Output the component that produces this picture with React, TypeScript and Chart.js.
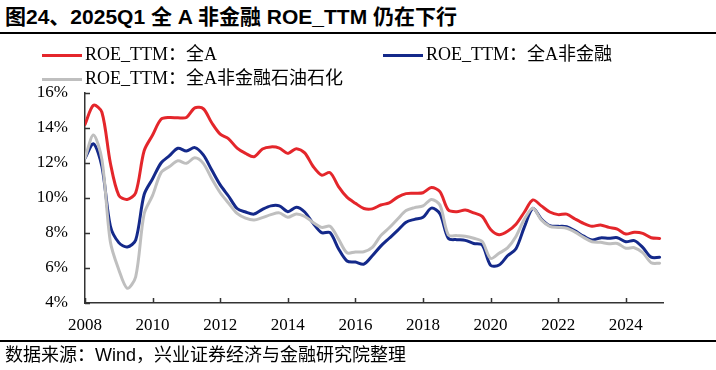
import React, { useEffect, useRef } from "react";
import { Chart, registerables } from "chart.js";

Chart.register(...registerables);

const quarters: string[] = [
  "2008Q1","2008Q2","2008Q3","2008Q4","2009Q1","2009Q2","2009Q3","2009Q4",
  "2010Q1","2010Q2","2010Q3","2010Q4","2011Q1","2011Q2","2011Q3","2011Q4",
  "2012Q1","2012Q2","2012Q3","2012Q4","2013Q1","2013Q2","2013Q3","2013Q4",
  "2014Q1","2014Q2","2014Q3","2014Q4","2015Q1","2015Q2","2015Q3","2015Q4",
  "2016Q1","2016Q2","2016Q3","2016Q4","2017Q1","2017Q2","2017Q3","2017Q4",
  "2018Q1","2018Q2","2018Q3","2018Q4","2019Q1","2019Q2","2019Q3","2019Q4",
  "2020Q1","2020Q2","2020Q3","2020Q4","2021Q1","2021Q2","2021Q3","2021Q4",
  "2022Q1","2022Q2","2022Q3","2022Q4","2023Q1","2023Q2","2023Q3","2023Q4",
  "2024Q1","2024Q2","2024Q3","2024Q4","2025Q1",
];

const roeAll: number[] = [
  14.2, 15.3, 14.9, 12.0, 10.15, 9.92, 10.3, 12.7,
  13.6, 14.5, 14.6, 14.58, 14.6, 15.15, 15.1, 14.3,
  13.65, 13.38, 12.85, 12.55, 12.36, 12.8, 12.92, 12.85,
  12.55, 12.82, 12.58, 11.8, 11.31, 11.45, 10.65, 10.05,
  9.7, 9.4, 9.38, 9.6, 9.72, 10.05, 10.25, 10.27,
  10.3, 10.6, 10.36, 9.31, 9.22, 9.31, 9.15, 8.95,
  8.2, 7.9, 8.1, 8.5, 9.2, 9.89, 9.55, 9.2,
  9.05, 9.08, 8.8, 8.55, 8.38, 8.46, 8.32, 8.22,
  7.94, 8.04, 7.98, 7.73, 7.69,
];

const roeNonFin: number[] = [
  12.27, 13.1, 11.8, 8.4, 7.45, 7.2, 7.6, 10.2,
  11.1, 12.0, 12.42, 12.84, 12.69, 12.88, 12.46, 11.6,
  10.75, 10.1, 9.4, 9.2, 9.08, 9.35, 9.55, 9.55,
  9.22, 9.47, 9.2, 8.55, 8.02, 8.02, 7.1, 6.4,
  6.34, 6.22, 6.7, 7.25, 7.7, 8.15, 8.62, 8.78,
  8.9, 9.42, 9.1, 7.69, 7.62, 7.58, 7.4, 7.32,
  6.15, 6.17, 6.7, 7.1, 8.35, 9.41, 8.8, 8.42,
  8.38, 8.36, 8.12, 7.82, 7.6, 7.72, 7.7, 7.73,
  7.5, 7.56, 7.18, 6.62, 6.61,
];

const roeNonFinExOil: number[] = [
  12.27, 13.6, 12.2, 7.5, 5.9, 4.84, 5.5, 9.1,
  10.15, 11.45, 11.8, 12.13, 11.98, 12.3, 11.98, 11.1,
  10.3, 9.7, 9.12, 8.85, 8.74, 8.88, 9.05, 9.15,
  8.9, 9.09, 8.95, 8.6, 8.32, 8.38, 7.65, 6.87,
  6.92, 6.93, 7.18, 7.85, 8.3, 8.8, 9.28, 9.45,
  9.55, 9.92, 9.6, 7.89, 7.85, 7.82, 7.7, 7.52,
  6.55, 6.84, 7.15, 7.8, 8.8, 9.41, 8.75, 8.38,
  8.32, 8.27, 8.05, 7.75, 7.5, 7.47, 7.38, 7.4,
  7.13, 7.16, 6.88, 6.3, 6.27,
];

const xTickYears: number[] = [2008, 2010, 2012, 2014, 2016, 2018, 2020, 2022, 2024];
const yTickValues: number[] = [4, 6, 8, 10, 12, 14, 16];

const seriesNames: string[] = [
  "ROE_TTM：全A",
  "ROE_TTM：全A非金融",
  "ROE_TTM：全A非金融石油石化",
];
const seriesColors: string[] = ["#E4262B", "#14298A", "#BFBFBF"];

const toYear = (q: string) => Number(q.slice(0, 4)) + (Number(q.slice(5)) - 1) * 0.25;

const serif = '"Liberation Serif", "Times New Roman", "Noto Sans CJK SC", serif';
const sans = '"Liberation Sans", Arial, "Noto Sans CJK SC", sans-serif';

const insideTicks = {
  id: "insideTicks",
  afterDraw(chart: any) {
    const ctx = chart.ctx;
    const xs = chart.scales.x;
    const ys = chart.scales.y;
    ctx.save();
    ctx.strokeStyle = "#333333";
    ctx.lineWidth = 1.5;
    ctx.beginPath();
    xTickYears.forEach((v) => {
      const px = Math.round(xs.getPixelForValue(v)) + 0.5;
      ctx.moveTo(px, ys.bottom);
      ctx.lineTo(px, ys.bottom - 5);
    });
    yTickValues.forEach((v) => {
      const py = Math.round(ys.getPixelForValue(v)) + 0.5;
      ctx.moveTo(xs.left, py);
      ctx.lineTo(xs.left + 5, py);
    });
    ctx.stroke();
    ctx.restore();
  },
};

function ChartCanvas() {
  const ref = useRef<HTMLCanvasElement | null>(null);
  useEffect(() => {
    if (!ref.current) return;
    const xs = quarters.map(toYear);
    const mk = (vals: number[]) => vals.map((v, i) => ({ x: xs[i], y: v }));
    const chart = new Chart(ref.current, {
      type: "line",
      data: {
        datasets: [
          { label: seriesNames[0], data: mk(roeAll), borderColor: seriesColors[0], order: 3 },
          { label: seriesNames[1], data: mk(roeNonFin), borderColor: seriesColors[1], order: 2 },
          { label: seriesNames[2], data: mk(roeNonFinExOil), borderColor: seriesColors[2], order: 1 },
        ].map((d) => ({
          ...d,
          borderWidth: 3,
          pointRadius: 0,
          tension: 0.3,
          fill: false,
          borderCapStyle: "round" as const,
          borderJoinStyle: "round" as const,
        })),
      },
      options: {
        responsive: false,
        animation: false,
        devicePixelRatio: 1,
        layout: { padding: { top: 93, left: 0, right: 53, bottom: 37 } },
        plugins: { legend: { display: false }, tooltip: { enabled: false }, title: { display: false } },
        scales: {
          x: {
            type: "linear",
            min: 2008,
            max: 2025.1,
            afterBuildTicks: (scale: any) => {
              scale.ticks = xTickYears.map((v) => ({ value: v }));
            },
            afterFit: (scale: any) => {
              scale.height = 30;
            },
            grid: { display: false, drawTicks: false },
            border: { display: true, color: "#333333", width: 1.5 },
            ticks: {
              padding: 12,
              color: "#000000",
              font: { family: serif, size: 17 },
              maxRotation: 0,
              autoSkip: false,
              callback: (v: any) => String(v),
            },
          },
          y: {
            type: "linear",
            min: 4,
            max: 16,
            afterBuildTicks: (scale: any) => {
              scale.ticks = yTickValues.map((v) => ({ value: v }));
            },
            afterFit: (scale: any) => {
              scale.width = 85;
            },
            grid: { display: false, drawTicks: false },
            border: { display: true, color: "#333333", width: 1.5 },
            ticks: {
              padding: 17,
              color: "#000000",
              font: { family: serif, size: 17 },
              callback: (v: any) => `${v}%`,
            },
          },
        },
      },
      plugins: [insideTicks],
    });
    return () => chart.destroy();
  }, []);
  return (
    <canvas
      ref={ref}
      width={716}
      height={370}
      style={{ position: "absolute", left: 0, top: 0, width: 716, height: 370 }}
    />
  );
}

function LegendItem({ left, top, color, text }: { left: number; top: number; color: string; text: string }) {
  return (
    <>
      <div style={{ position: "absolute", left, top: top - 1.5, width: 40, height: 3, background: color }} />
      <div
        style={{
          position: "absolute",
          left: left + 43,
          top: top - 11,
          fontFamily: serif,
          fontSize: 18,
          lineHeight: "20px",
          color: "#000",
          whiteSpace: "nowrap",
        }}
      >
        {text}
      </div>
    </>
  );
}

export default function App() {
  return (
    <div style={{ position: "absolute", left: 0, top: 0, width: 716, height: 370, background: "#fff", overflow: "hidden" }}>
      <div
        style={{
          position: "absolute",
          left: 5,
          top: 5,
          fontFamily: sans,
          fontWeight: "bold",
          fontSize: 21,
          lineHeight: "24px",
          color: "#000",
          whiteSpace: "nowrap",
        }}
      >
        图24、2025Q1 全 A 非金融 ROE_TTM 仍在下行
      </div>
      <div style={{ position: "absolute", left: 0, top: 32, width: 716, height: 2, background: "#000" }} />
      <ChartCanvas />
      <LegendItem left={42} top={55} color={seriesColors[0]} text={seriesNames[0]} />
      <LegendItem left={383} top={55} color={seriesColors[1]} text={seriesNames[1]} />
      <LegendItem left={42} top={79} color={seriesColors[2]} text={seriesNames[2]} />
      <div style={{ position: "absolute", left: 0, top: 340, width: 716, height: 2, background: "#000" }} />
      <div
        style={{
          position: "absolute",
          left: 5,
          top: 345,
          fontFamily: sans,
          fontSize: 18,
          lineHeight: "20px",
          color: "#000",
          whiteSpace: "nowrap",
        }}
      >
        数据来源：Wind，兴业证券经济与金融研究院整理
      </div>
    </div>
  );
}
